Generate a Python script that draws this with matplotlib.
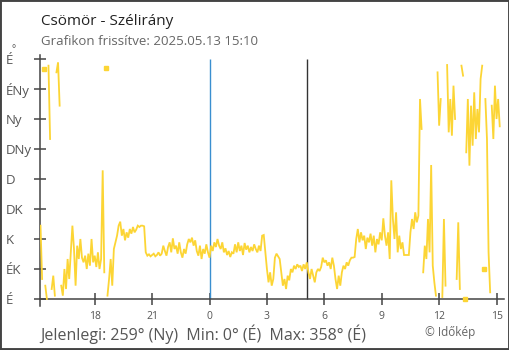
import numpy as np
import matplotlib
matplotlib.use("Agg")
import matplotlib.pyplot as plt
from matplotlib.patches import Rectangle
import matplotlib.transforms as mtransforms

plt.rcParams['font.family'] = ['Open Sans', 'DejaVu Sans']

# ---------------- data ----------------
title = "Csömör - Szélirány"
subtitle = "Grafikon frissítve: 2025.05.13 15:10"
footer = "Jelenlegi: 259° (Ny)  Min: 0° (É)  Max: 358° (É)"
credit = "© Időkép"

start_hour = -8 - 50 / 60      # 15:10 previous day (hours relative to midnight)
step_minutes = 5
sunrise_hour = 5 + 5 / 60      # 05:05
midnight_hour = 0

direction_deg = [
    110, 30, 345, 20, 0, 350, 240, 15, 35, 5, 340, 355,
    290, 20, 5, 45, 15, 60, 30, 70, 110, 75, 20, 80,
    60, 90, 62, 55, 65, 45, 68, 50, 90, 55, 65, 48,
    70, 45, 60, 193, 40, 346, 5, 30, 60, 20, 75, 85,
    95, 110, 116, 95, 105, 88, 100, 92, 105, 98, 108, 100,
    104, 110, 108, 110, 110, 109, 70, 65, 67, 64, 66, 68,
    64, 66, 70, 65, 68, 80, 72, 65, 78, 85, 70, 91,
    75, 80, 68, 85, 70, 62, 75, 68, 82, 90, 85, 92,
    80, 88, 72, 65, 80, 60, 75, 68, 82, 70, 62, 80,
    72, 85, 78, 90, 80, 75, 85, 70, 76, 66, 72, 63,
    70, 68, 82, 70, 85, 72, 80, 66, 84, 74, 80, 70,
    78, 72, 82, 75, 70, 80, 72, 95, 96, 70, 45, 25,
    40, 20, 30, 62, 68, 64, 60, 40, 20, 30, 15, 35,
    28, 45, 40, 50, 45, 52, 48, 50, 42, 52, 45, 55,
    40, 30, 45, 35, 25, 40, 45, 42, 48, 62, 55, 58,
    50, 55, 45, 62, 50, 30, 15, 35, 20, 40, 50, 45,
    55, 50, 58, 62, 62, 63, 90, 105, 85, 100, 88, 95,
    75, 92, 85, 98, 80, 95, 70, 90, 82, 100, 88, 121,
    95, 80, 100, 60, 178, 120, 90, 130, 70, 95, 75, 85,
    66, 66, 66, 66, 100, 120, 105, 130, 115, 125, 300, 255,
    40, 80, 60, 120, 70, 201, 50, 25, 5, 340, 260, 300,
    3, 120, 20, 351, 250, 300, 245, 320, 270, 30, 115, 15,
    350, 335, 0, 220, 300, 200, 290, 230, 310, 240, 285, 250,
    330, 350, 45, 300, 240, 70, 10, 290, 240, 320, 270, 300,
    259,
]

x_tick_pos = [-6, -3, 0, 3, 6, 9, 12, 15]
x_tick_labels = ["18", "21", "0", "3", "6", "9", "12", "15"]
y_tick_pos = [0, 45, 90, 135, 180, 225, 270, 315, 360]
y_tick_labels = ["É", "ÉK", "K", "DK", "D", "DNy", "Ny", "ÉNy", "É"]

# ---------------- figure ----------------
W, H = 510, 350
fig = plt.figure(figsize=(W / 100, H / 100), dpi=100)
fig.patch.set_facecolor('white')

def fx(px):
    return px / W

def fy(py):
    return 1 - py / H

ax_left, ax_right, ax_top, ax_bottom = 40, 504, 55, 306
ax = fig.add_axes([fx(ax_left), fy(ax_bottom), (ax_right - ax_left) / W, (ax_bottom - ax_top) / H])

vals = np.array(direction_deg, dtype=float)
times = start_hour + np.arange(len(vals)) * step_minutes / 60.0

# break the line where the direction wraps across north
xs, ys = [], []
brk = np.zeros(len(vals) + 1, dtype=bool)   # brk[i]: break between i-1 and i
brk[0] = True
brk[-1] = True
for i in range(1, len(vals)):
    if abs(vals[i] - vals[i - 1]) > 180:
        brk[i] = True
for i in range(len(vals)):
    if i > 0 and brk[i]:
        xs.append(np.nan)
        ys.append(np.nan)
    xs.append(times[i])
    ys.append(vals[i])

line_color = '#fcd535'
ax.plot(xs, ys, color=line_color, lw=1.3, solid_joinstyle='miter', zorder=3)
iso = [i for i in range(len(vals)) if brk[i] and brk[i + 1]]
ax.plot(times[iso], vals[iso], ls='none', marker='s', ms=2.8, color=line_color,
        mec=line_color, zorder=3)

# vertical reference lines
ax.vlines(midnight_hour, 0, 360, color='#3a8fd0', lw=1.0, zorder=2)
ax.vlines(sunrise_hour, 0, 360, color='#333333', lw=1.0, zorder=2)

ax.set_xlim(-8.86, 15.39)
ax.set_ylim(-10.5, 366)

axis_color = '#444444'
for s in ['top', 'right']:
    ax.spines[s].set_visible(False)
ax.spines['left'].set_color(axis_color)
ax.spines['bottom'].set_color(axis_color)
ax.spines['left'].set_linewidth(1.1)
ax.spines['bottom'].set_linewidth(1.1)
ax.spines['bottom'].set_position(('data', 0))

ax.set_xticks(x_tick_pos)
ax.set_xticklabels(x_tick_labels)
ax.set_yticks(y_tick_pos)
ax.set_yticklabels([])
ax.tick_params(axis='x', direction='inout', length=8.6, width=1.1, color=axis_color,
               labelsize=7.5, labelcolor='#555555', pad=4)
ax.tick_params(axis='y', direction='inout', length=8.6, width=1.1, color=axis_color)
ax.set_facecolor('none')

# y labels, left aligned
trans = mtransforms.blended_transform_factory(fig.transFigure, ax.transData)
for v, lab in zip(y_tick_pos, y_tick_labels):
    fig.text(fx(6), v, lab, transform=trans, ha='left', va='center_baseline',
             fontsize=9.5, color='#555555')
fig.text(fx(12), fy(50), '°', ha='left', va='center', fontsize=7, color='#555555')

# texts
fig.text(fx(41), fy(25), title, ha='left', va='baseline', fontsize=11, color='#222222')
fig.text(fx(41), fy(45), subtitle, ha='left', va='baseline', fontsize=9.5, color='#666666')
fig.text(fx(40), fy(340), footer, ha='left', va='baseline', fontsize=11.5, color='#555555')
fig.text(fx(425), fy(336), credit, ha='left', va='baseline', fontsize=8.5, color='#666666')

# outer frame
fig.patches.append(Rectangle((0, 0), 1, 1, transform=fig.transFigure, fill=False,
                             edgecolor='#444444', linewidth=2.8, zorder=10))

fig.savefig('out.png', dpi=100)
